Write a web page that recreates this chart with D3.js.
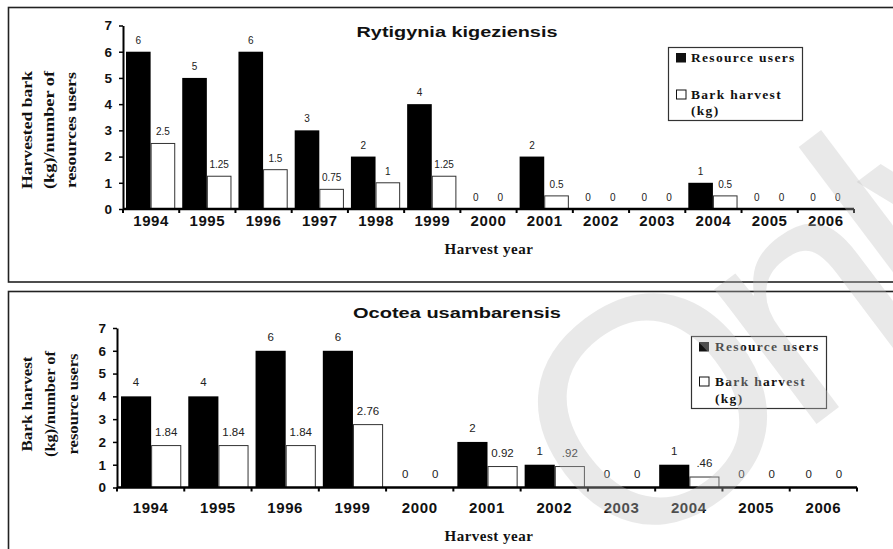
<!DOCTYPE html>
<html>
<head>
<meta charset="utf-8">
<script src="https://d3js.org/d3.v7.min.js"></script>
<style>
  body { margin: 0; background: #fff; }
  .val { font-family: Arial, "Liberation Sans", sans-serif; fill: #222; text-anchor: middle; }
  .serif { font-family: "Times New Roman", "Liberation Serif", serif; font-weight: bold; fill: #111; }
  .sans { font-family: Arial, "Liberation Sans", sans-serif; font-weight: bold; fill: #111; }
</style>
</head>
<body>
<svg width="893" height="549"></svg>
<script>
// Rytigynia kigeziensis
var rkYears = ["1994", "1995", "1996", "1997", "1998", "1999", "2000", "2001", "2002", "2003", "2004", "2005", "2006"];
var rkUsers = [6, 5, 6, 3, 2, 4, 0, 2, 0, 0, 1, 0, 0];
var rkBark = [2.5, 1.25, 1.5, 0.75, 1, 1.25, 0, 0.5, 0, 0, 0.5, 0, 0];
var rkBarkLabels = ["2.5", "1.25", "1.5", "0.75", "1", "1.25", "0", "0.5", "0", "0", "0.5", "0", "0"];

// Ocotea usambarensis
var ouYears = ["1994", "1995", "1996", "1999", "2000", "2001", "2002", "2003", "2004", "2005", "2006"];
var ouUsers = [4, 4, 6, 6, 0, 2, 1, 0, 1, 0, 0];
var ouBark = [1.84, 1.84, 1.84, 2.76, 0, 0.92, 0.92, 0, 0.46, 0, 0];
var ouBarkLabels = ["1.84", "1.84", "1.84", "2.76", "0", "0.92", ".92", "0", ".46", "0", "0"];

var yTicks = [0, 1, 2, 3, 4, 5, 6, 7];
var seriesKeys = ["users", "bark"];
var legendLines = ["Resource users", "Bark harvest", "(kg)"];

var svg = d3.select("svg");

function drawPanel(p) {
  var g = svg.append("g");

  // frame (runs off the right edge like the original)
  g.append("rect")
    .attr("x", 8.5).attr("y", p.frameTop)
    .attr("width", 900).attr("height", p.frameH)
    .attr("fill", "none").attr("stroke", "#222").attr("stroke-width", 1.6);

  var rows = p.years.map(function(y, i) {
    return { year: y, users: p.users[i], bark: p.bark[i], barkLabel: p.barkLabels[i] };
  });

  var x0 = d3.scaleBand().domain(p.years).range([p.left, p.right]).padding(0);
  var x1 = d3.scaleBand().domain(seriesKeys).range([p.inset[0], x0.bandwidth() - p.inset[1]]).padding(0);
  var y = d3.scaleLinear().domain([0, 7]).range([p.bottom, p.top]);

  // bars
  var grp = g.selectAll(".grp").data(rows).enter().append("g")
    .attr("transform", function(d) { return "translate(" + x0(d.year) + ",0)"; });

  grp.append("rect")
    .attr("x", x1("users")).attr("width", x1.bandwidth())
    .attr("y", function(d) { return y(d.users); })
    .attr("height", function(d) { return y(0) - y(d.users); })
    .attr("fill", "#000");

  grp.append("rect")
    .attr("x", x1("bark") + 0.5).attr("width", x1.bandwidth() - 1)
    .attr("y", function(d) { return y(d.bark); })
    .attr("height", function(d) { return y(0) - y(d.bark); })
    .attr("fill", "#fff").attr("stroke", "#333").attr("stroke-width", 1);

  // value labels
  grp.append("text").attr("class", "val")
    .attr("font-size", p.valSize)
    .attr("x", x1("users") + x1.bandwidth() / 2)
    .attr("y", function(d) { return y(d.users) - p.valOff; })
    .text(function(d) { return d.users; });

  grp.append("text").attr("class", "val")
    .attr("font-size", p.valSize)
    .attr("x", x1("bark") + x1.bandwidth() / 2)
    .attr("y", function(d) { return y(d.bark) - p.valOff; })
    .text(function(d) { return d.barkLabel; });

  // y axis
  var yAxis = g.append("g")
    .attr("transform", "translate(" + p.left + ",0)")
    .call(d3.axisLeft(y).tickValues(yTicks).tickFormat(d3.format("d"))
      .tickSize(4).tickPadding(p.yPad).tickSizeOuter(0));
  yAxis.select(".domain").attr("stroke", "#000").attr("stroke-width", 2);
  yAxis.selectAll(".tick line").attr("stroke", "#000").attr("stroke-width", 1.5);
  yAxis.selectAll("text").attr("class", "sans").attr("font-size", 13.5).attr("fill", "#111");

  // x axis: baseline, ticks at the group boundaries, year labels
  g.append("line")
    .attr("x1", p.left).attr("x2", p.right)
    .attr("y1", y(0)).attr("y2", y(0))
    .attr("stroke", "#000").attr("stroke-width", 2.5);

  var edges = p.years.map(function(d) { return x0(d); }).concat([p.right]);
  g.selectAll(".xt").data(edges).enter().append("line")
    .attr("x1", function(d) { return d; }).attr("x2", function(d) { return d; })
    .attr("y1", y(0)).attr("y2", y(0) + 4)
    .attr("stroke", "#000").attr("stroke-width", 2);

  g.selectAll(".yr").data(p.years).enter().append("text")
    .attr("class", "sans").attr("font-size", 15).attr("letter-spacing", 0.6)
    .attr("text-anchor", "middle")
    .attr("x", function(d) { return x0(d) + x0.bandwidth() / 2; })
    .attr("y", p.yearY)
    .text(function(d) { return d; });

  g.append("text").attr("class", "serif").attr("font-size", 15)
    .attr("text-anchor", "middle").attr("letter-spacing", 0.5)
    .attr("x", 489).attr("y", p.xTitleY)
    .text("Harvest year");

  // title
  g.append("text").attr("class", "sans").attr("font-size", 15.5)
    .attr("text-anchor", "middle")
    .attr("textLength", p.titleLen).attr("lengthAdjust", "spacingAndGlyphs")
    .attr("x", 457).attr("y", p.titleY)
    .text(p.title);

  // y title, three rotated lines
  p.yTitle.forEach(function(t, i) {
    g.append("text").attr("class", "serif").attr("font-size", 15.5)
      .attr("text-anchor", "middle")
      .attr("textLength", p.yTitleLen[i]).attr("lengthAdjust", "spacingAndGlyphs")
      .attr("transform", "translate(" + p.yTitleX[i] + "," + p.yTitleCY + ") rotate(-90)")
      .text(t);
  });

  // legend
  var L = p.legend;
  g.append("rect")
    .attr("x", L.x + 0.5).attr("y", L.y + 0.5).attr("width", L.w).attr("height", L.h)
    .attr("fill", "#fff").attr("stroke", "#333").attr("stroke-width", 1.2);
  g.append("rect")
    .attr("x", L.sx).attr("y", L.rows[0] - 9).attr("width", 10).attr("height", 9.5)
    .attr("fill", "#111");
  g.append("rect")
    .attr("x", L.sx + 0.5).attr("y", L.rows[1] - 9).attr("width", 9.5).attr("height", 9)
    .attr("fill", "#fff").attr("stroke", "#111").attr("stroke-width", 1);
  legendLines.forEach(function(t, i) {
    g.append("text").attr("class", "serif").attr("font-size", 13.5)
      .attr("letter-spacing", 1.3)
      .attr("x", L.tx).attr("y", L.rows[i])
      .text(t);
  });
}

drawPanel({
  frameTop: 7.5, frameH: 274.5,
  years: rkYears, users: rkUsers, bark: rkBark, barkLabels: rkBarkLabels,
  left: 123, right: 854, top: 25.5, bottom: 209,
  inset: [3, 4], valSize: 10, valOff: 8, yPad: 7,
  yearY: 226, xTitleY: 254,
  title: "Rytigynia kigeziensis", titleY: 37, titleLen: 201,
  yTitle: ["Harvested bark", "(kg)/number of", "resources users"],
  yTitleLen: [118, 118, 116],
  yTitleX: [32, 54, 76], yTitleCY: 130,
  legend: { x: 668, y: 47, w: 134, h: 73, sx: 676, tx: 691, rows: [62, 99, 115] }
});

drawPanel({
  frameTop: 291.5, frameH: 300,
  years: ouYears, users: ouUsers, bark: ouBark, barkLabels: ouBarkLabels,
  left: 117, right: 857, top: 328, bottom: 487.5,
  inset: [4, 3], valSize: 11.5, valOff: 10, yPad: 7,
  yearY: 513, xTitleY: 541,
  title: "Ocotea usambarensis", titleY: 318, titleLen: 208,
  yTitle: ["Bark harvest", "(kg)/number of", "resource users"],
  yTitleLen: [95, 106, 101],
  yTitleX: [32, 55, 78], yTitleCY: 404,
  legend: { x: 691, y: 336, w: 135, h: 72, sx: 699, tx: 715, rows: [351, 386, 403] }
});

// faint watermark laid over the page
svg.append("text")
  .attr("transform", "translate(620,572) rotate(-37)")
  .attr("font-family", "Arial, 'Liberation Sans', sans-serif")
  .attr("font-size", 320).attr("letter-spacing", -25)
  .attr("fill", "#c0c0c0").attr("fill-opacity", 0.35)
  .text("Only");
</script>
</body>
</html>
